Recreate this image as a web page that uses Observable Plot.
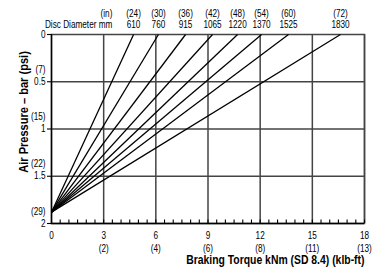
<!DOCTYPE html>
<html><head><meta charset="utf-8">
<script src="https://cdn.jsdelivr.net/npm/d3@7"></script>
<script src="https://cdn.jsdelivr.net/npm/@observablehq/plot@0.6"></script>
<style>body{margin:0;background:#fff}</style>
</head><body><div id="chart"></div>
<script>
const discMm = ["610","760","915","1065","1220","1370","1525","1830"];
const discIn = ["(24)","(30)","(36)","(42)","(48)","(54)","(60)","(72)"];
const torqueAtZero = [4.72, 6.15, 7.71, 9.26, 10.7, 12.08, 13.63, 16.62];
const startPressure = 1.88;
const xTicks = [0, 3, 6, 9, 12, 15, 18];
const klbLabels = ["", "(2)", "(4)", "(6)", "(8)", "(11)", "(13)"];
const yTicks = [0, 0.5, 1, 1.5, 2];
const psiLabels = ["", "(7)", "(15)", "(22)", "(29)"];
const minorX = d3.range(0, 18.001, 0.5);
const headerX = 3.5;

const font = "'Liberation Sans', Arial, sans-serif";
const lines = discMm.map((mm, i) => ({mm, inch: discIn[i], end: torqueAtZero[i]}));
const mid = {lineAnchor: "middle"};

const chart = Plot.plot({
  width: 376, height: 267,
  marginLeft: 51, marginRight: 12, marginTop: 34, marginBottom: 44,
  style: {fontFamily: font, fontSize: "10px", color: "#000", background: "#fff"},
  x: {domain: [0, 18]},
  y: {domain: [0, 2], reverse: true},
  marks: [
    Plot.ruleX(xTicks.slice(1), {stroke: "#444", strokeWidth: 1.5}),
    Plot.ruleY(yTicks.slice(1, 4), {stroke: "#444", strokeWidth: 1.5}),
    Plot.frame({stroke: "#444", strokeWidth: 1.5}),
    Plot.ruleX([0], {stroke: "#000", strokeWidth: 1.4}),
    Plot.ruleY([2], {stroke: "#000", strokeWidth: 1.4}),
    Plot.axisX(minorX, {anchor: "bottom", tickSize: -3.5, tickFormat: () => "", strokeWidth: 1.1, label: null}),
    Plot.axisY(yTicks, {anchor: "left", tickSize: 4, tickFormat: () => "", label: null, strokeWidth: 1.1}),
    Plot.link(lines, {x1: 0, y1: startPressure, x2: "end", y2: 0, stroke: "#000", strokeWidth: 1.3}),
    Plot.text(xTicks, {x: d => d, frameAnchor: "bottom", dy: 12, fontSize: 10, className: "cond", ...mid}),
    Plot.text(xTicks, {x: d => d, text: (d, i) => klbLabels[i], frameAnchor: "bottom", dy: 25, fontSize: 10, className: "cond", ...mid}),
    Plot.text(yTicks, {y: d => d, frameAnchor: "left", dx: -6, textAnchor: "end", fontSize: 10, className: "cond", ...mid}),
    Plot.text(yTicks, {y: d => d, text: (d, i) => psiLabels[i], frameAnchor: "left", dx: -6, dy: -12, textAnchor: "end", fontSize: 10, className: "cond", ...mid}),
    Plot.text(lines, {x: "end", text: "inch", frameAnchor: "top", dy: -21, fontSize: 10, className: "cond", ...mid}),
    Plot.text(lines, {x: "end", text: "mm", frameAnchor: "top", dy: -10, fontSize: 10, className: "cond", ...mid}),
    Plot.text(["(in)"], {x: headerX, frameAnchor: "top", dy: -21, textAnchor: "end", fontSize: 10, className: "cond", ...mid}),
    Plot.text(["Disc Diameter mm"], {x: headerX, frameAnchor: "top", dy: -10, textAnchor: "end", fontSize: 10, className: "cond", ...mid}),
    Plot.text(["Air Pressure \u2013 bar (psi)"], {y: 0.82, frameAnchor: "left", textAnchor: "middle", dx: -28, rotate: -90, fontSize: 13, fontWeight: "bold", className: "condy", ...mid}),
    Plot.text(["Braking Torque kNm (SD 8.4) (klb-ft)"], {x: 18, frameAnchor: "bottom", dy: 36.5, textAnchor: "end", fontSize: 13, fontWeight: "bold", className: "condx", ...mid})
  ]
});
document.getElementById("chart").appendChild(chart);
function condense(sel, factor) {
  chart.querySelectorAll(sel + " text").forEach(t => {
    const w = t.getComputedTextLength();
    if (w > 0) {
      t.setAttribute("textLength", (w * factor).toFixed(2));
      t.setAttribute("lengthAdjust", "spacingAndGlyphs");
    }
  });
}
condense(".cond", 0.82);
condense(".condx", 0.8);
condense(".condy", 0.85);
</script>
</body></html>
